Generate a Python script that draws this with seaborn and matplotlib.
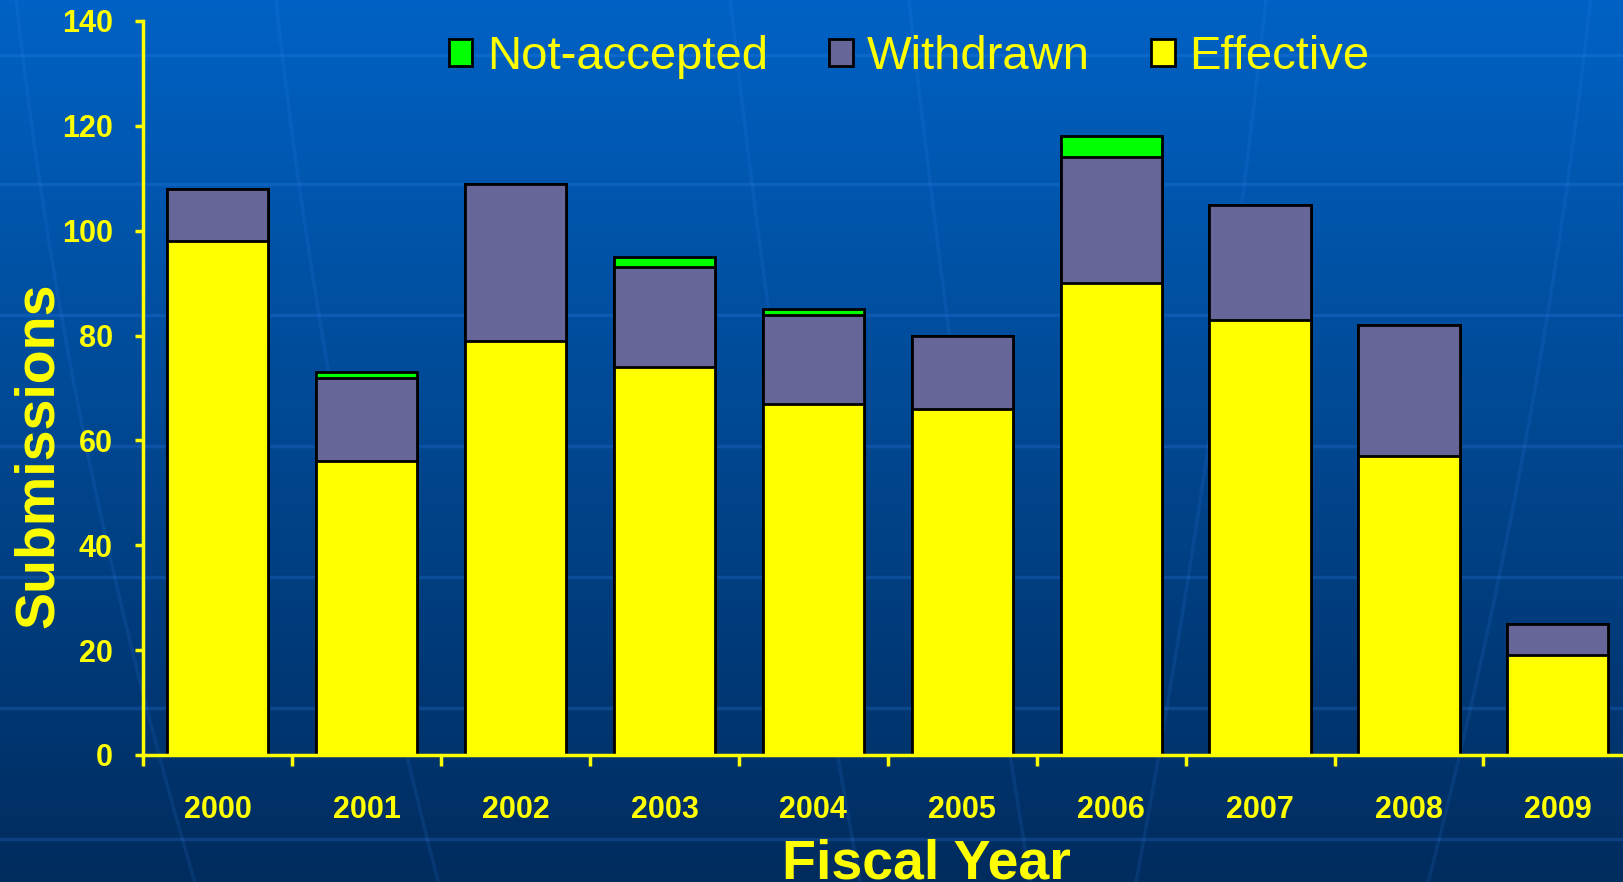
import numpy as np
import matplotlib
matplotlib.use("Agg")
import matplotlib.pyplot as plt
from matplotlib.patches import Patch
import seaborn as sns
import pandas as pd

# ---- data ----
years = ["2000", "2001", "2002", "2003", "2004", "2005", "2006", "2007", "2008", "2009"]
effective = [98, 56, 79, 74, 67, 66, 90, 83, 57, 19]
withdrawn = [10, 16, 30, 19, 17, 14, 24, 22, 25, 6]
not_accepted = [0, 1, 0, 2, 1, 0, 4, 0, 0, 0]
y_ticks = [0, 20, 40, 60, 80, 100, 120, 140]

df = pd.DataFrame({"year": years, "Effective": effective,
                   "Withdrawn": withdrawn, "Not-accepted": not_accepted})
df["ew"] = df["Effective"] + df["Withdrawn"]
df["total"] = df["ew"] + df["Not-accepted"]

YELLOW = "#FFFF00"
GREY = "#666699"
GREEN = "#00FF00"

sns.set_theme(style="white")
plt.rcParams["font.family"] = ["Liberation Sans", "DejaVu Sans"]

fig = plt.figure(figsize=(16.23, 8.82), dpi=100)

# background gradient
bg = fig.add_axes([0, 0, 1, 1], zorder=-10)
top = np.array([0, 98, 196]) / 255
bot = np.array([0, 44, 94]) / 255
t = np.linspace(0, 1, 256)[:, None]
grad = top[None, :] * (1 - t) + bot[None, :] * t
bg.imshow(grad[:, None, :], aspect="auto", extent=[0, 1, 0, 1], origin="upper")
for yy in [55, 184, 315, 446, 577, 708, 839]:
    bg.axhline(1 - yy / 882, color=(0.25, 0.55, 1.0), alpha=0.2, lw=2.5)
# faint meridian curves
s = np.linspace(0, 1, 200)
for x0, bend in [(0.01, 0.05), (0.17, 0.04), (0.45, 0.02), (0.56, 0.015), (0.78, -0.02), (0.98, -0.04)]:
    xs = x0 + bend * (1 - s) ** 2 + 0.06 * (1 - s) * np.sign(bend)
    bg.plot(xs, s, color=(0.25, 0.55, 1.0), alpha=0.12, lw=2.5)
bg.set_xlim(0, 1)
bg.set_ylim(0, 1)
bg.axis("off")

ax = fig.add_axes([143.3 / 1623, 127 / 882, 1489 / 1623, 734 / 882])
ax.set_facecolor("none")

kw = dict(width=0.68, edgecolor="black", linewidth=2.0, saturation=1, ax=ax, zorder=2)
sns.barplot(data=df, x="year", y="total", color=GREEN, **kw)
sns.barplot(data=df, x="year", y="ew", color=GREY, **kw)
sns.barplot(data=df, x="year", y="Effective", color=YELLOW, **kw)

ax.set_xlim(-0.5, 9.5)
ax.set_ylim(0, 140)
ax.set_yticks(y_ticks)
ax.set_yticklabels([str(v) for v in y_ticks])
ax.set_xlabel("")
ax.set_ylabel("")

for sp in ["top", "right"]:
    ax.spines[sp].set_visible(False)
for sp in ["left", "bottom"]:
    ax.spines[sp].set_color(YELLOW)
    ax.spines[sp].set_linewidth(2.5)
    ax.spines[sp].set_zorder(3)

ax.tick_params(axis="y", direction="out", length=6, width=2.5, color=YELLOW,
               labelcolor=YELLOW, labelsize=22, pad=16, left=True)
ax.set_xticks(np.arange(-0.5, 10, 1.0), minor=True)
ax.tick_params(axis="x", which="major", length=0, labelcolor=YELLOW, labelsize=22, pad=29)
ax.tick_params(axis="x", which="minor", direction="out", length=8, width=2.5, color=YELLOW, bottom=True)
for lab in ax.get_xticklabels() + ax.get_yticklabels():
    lab.set_fontweight("bold")
ax.grid(False)

fig.text(39 / 1623, 1 - 455 / 882, "Submissions", rotation=90, ha="center", va="center",
         color=YELLOW, fontsize=40, fontweight="bold")
fig.text(926 / 1623, 0.004, "Fiscal Year", ha="center", va="baseline",
         color=YELLOW, fontsize=40, fontweight="bold")

handles = [Patch(facecolor=GREEN, edgecolor="black", linewidth=2),
           Patch(facecolor=GREY, edgecolor="black", linewidth=2),
           Patch(facecolor=YELLOW, edgecolor="black", linewidth=2)]
leg = fig.legend(handles, ["Not-accepted", "Withdrawn", "Effective"], ncol=3,
                 loc="center", bbox_to_anchor=(909 / 1623, 1 - 57 / 882), frameon=False,
                 fontsize=34, handlelength=0.5, handleheight=0.5, handletextpad=0.3,
                 columnspacing=1.3)
for tx in leg.get_texts():
    tx.set_color(YELLOW)

fig.savefig("out.png", dpi=100)
